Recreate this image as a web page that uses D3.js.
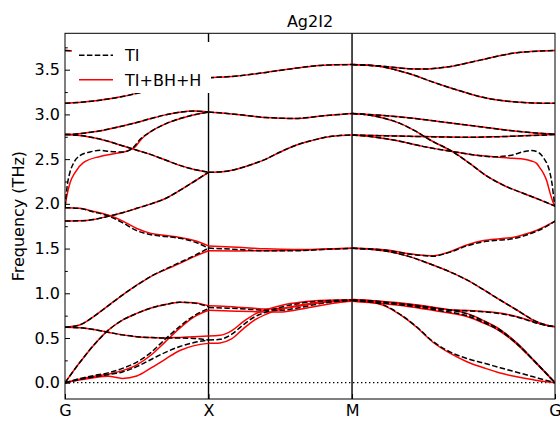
<!DOCTYPE html>
<html>
<head>
<meta charset="utf-8">
<script src="https://cdn.jsdelivr.net/npm/d3@7"></script>
<style>
  body { margin: 0; background: #fff; }
  svg { display: block; }
  text { font-family: "DejaVu Sans", sans-serif; }
</style>
</head>
<body>
<svg id="chart" width="560" height="421"></svg>
<script>
// ---- data -----------------------------------------------------------
const titleText = "Ag2I2";
const seriesNames = ["TI", "TI+BH+H"];
const pathLabels = ["G", "X", "M", "G"];
const pathPositions = [0, 0.5, 1.0, 1.7071];
const freqTicks = [0.0, 0.5, 1.0, 1.5, 2.0, 2.5, 3.0, 3.5];
const freqMinorTicks = [0.25, 0.75, 1.25, 1.75, 2.25, 2.75, 3.25, 3.75];

// Each band: list of [path coordinate, frequency in THz]
// TI, G -> X
const tiGX = [
  [[0,0],[0.05,0.035],[0.1,0.065],[0.15,0.09],[0.2,0.12],[0.25,0.18],[0.3,0.26],[0.35,0.34],[0.4,0.405],[0.45,0.45],[0.5,0.477]],
  [[0,0],[0.05,0.045],[0.1,0.08],[0.15,0.11],[0.2,0.16],[0.25,0.23],[0.3,0.34],[0.35,0.49],[0.4,0.63],[0.45,0.75],[0.5,0.83]],
  [[0,0],[0.05,0.22],[0.1,0.42],[0.15,0.585],[0.2,0.7],[0.25,0.775],[0.3,0.835],[0.35,0.875],[0.4,0.9],[0.45,0.89],[0.5,0.85]],
  [[0,0.62],[0.05,0.615],[0.1,0.595],[0.15,0.565],[0.2,0.535],[0.25,0.515],[0.3,0.505],[0.35,0.5],[0.4,0.5],[0.45,0.495],[0.5,0.477]],
  [[0,0.62],[0.05,0.645],[0.1,0.74],[0.15,0.86],[0.2,0.98],[0.25,1.09],[0.3,1.19],[0.35,1.27],[0.4,1.345],[0.45,1.42],[0.5,1.505]],
  [[0,1.957],[0.05,1.95],[0.1,1.91],[0.15,1.865],[0.2,1.79],[0.25,1.7],[0.3,1.655],[0.35,1.635],[0.4,1.615],[0.45,1.575],[0.5,1.505]],
  [[0,1.808],[0.05,1.81],[0.1,1.825],[0.15,1.86],[0.2,1.9],[0.25,1.95],[0.3,2.0],[0.35,2.06],[0.4,2.15],[0.45,2.25],[0.5,2.353]],
  [[0,1.96],[0.004,2.1],[0.009,2.23],[0.017,2.35],[0.029,2.45],[0.052,2.54],[0.087,2.58],[0.122,2.598],[0.157,2.585],[0.203,2.58],[0.238,2.63],[0.261,2.72],[0.3,2.81],[0.354,2.9],[0.424,2.975],[0.5,3.027]],
  [[0,2.775],[0.05,2.765],[0.1,2.74],[0.15,2.7],[0.2,2.65],[0.25,2.6],[0.3,2.55],[0.35,2.49],[0.4,2.43],[0.45,2.385],[0.5,2.353]],
  [[0,2.775],[0.05,2.785],[0.1,2.805],[0.15,2.835],[0.2,2.87],[0.25,2.91],[0.3,2.955],[0.35,2.995],[0.4,3.025],[0.45,3.037],[0.5,3.027]],
  [[0,3.124],[0.1,3.15],[0.2,3.2],[0.3,3.275],[0.4,3.36],[0.5,3.41]],
  [[0,3.715],[0.1,3.69],[0.2,3.62],[0.3,3.53],[0.4,3.45],[0.5,3.41]]
];
// TI, X -> M
const tiXM = [
  [[0.5,3.41],[0.6,3.43],[0.7,3.47],[0.8,3.515],[0.9,3.55],[1.0,3.557]],
  [[0.5,3.027],[0.6,3.0],[0.7,2.965],[0.8,2.955],[0.9,2.985],[1.0,3.01]],
  [[0.5,2.353],[0.55,2.36],[0.6,2.39],[0.65,2.44],[0.7,2.5],[0.75,2.58],[0.8,2.65],[0.85,2.7],[0.9,2.74],[0.95,2.762],[1.0,2.77]],
  [[0.5,1.505],[0.6,1.49],[0.7,1.475],[0.8,1.475],[0.9,1.49],[1.0,1.503]],
  [[0.5,0.477],[0.54,0.485],[0.58,0.54],[0.62,0.645],[0.66,0.735],[0.7,0.79],[0.76,0.85],[0.82,0.888],[0.91,0.917],[1.0,0.925]],
  [[0.5,0.84],[0.55,0.835],[0.6,0.83],[0.65,0.82],[0.7,0.81],[0.75,0.81],[0.8,0.83],[0.85,0.86],[0.9,0.89],[0.95,0.91],[1.0,0.92]]
];
// TI, M -> G
const tiMG = [
  [[1.0,3.557],[1.1,3.54],[1.2,3.51],[1.25,3.507],[1.33,3.53],[1.45,3.61],[1.56,3.683],[1.65,3.708],[1.7071,3.715]],
  [[1.0,3.557],[1.08,3.545],[1.15,3.5],[1.214,3.44],[1.27,3.375],[1.33,3.31],[1.39,3.25],[1.446,3.198],[1.5,3.165],[1.562,3.142],[1.63,3.128],[1.7071,3.124]],
  [[1.0,3.01],[1.1,2.99],[1.214,2.956],[1.33,2.91],[1.446,2.863],[1.55,2.82],[1.63,2.795],[1.7071,2.778]],
  [[1.0,3.01],[1.063,2.99],[1.115,2.955],[1.167,2.9],[1.22,2.815],[1.272,2.714],[1.352,2.58],[1.411,2.45],[1.47,2.31],[1.533,2.2],[1.596,2.118],[1.655,2.045],[1.7071,1.975]],
  [[1.0,2.77],[1.2,2.755],[1.4,2.745],[1.55,2.755],[1.7071,2.775]],
  [[1.0,2.77],[1.07,2.75],[1.144,2.714],[1.25,2.64],[1.353,2.583],[1.42,2.55],[1.492,2.527],[1.55,2.54],[1.6,2.585],[1.625,2.597],[1.65,2.575],[1.67,2.5],[1.683,2.42],[1.69,2.34],[1.697,2.22],[1.7035,2.05],[1.7071,1.97]],
  [[1.0,1.503],[1.111,1.484],[1.225,1.428],[1.283,1.415],[1.341,1.46],[1.4,1.53],[1.458,1.575],[1.516,1.595],[1.56,1.61],[1.597,1.64],[1.64,1.69],[1.667,1.73],[1.7071,1.808]],
  [[1.0,1.503],[1.07,1.49],[1.14,1.46],[1.2,1.41],[1.27,1.33],[1.341,1.24],[1.4,1.15],[1.458,1.04],[1.516,0.925],[1.574,0.813],[1.632,0.7],[1.667,0.653],[1.7071,0.626]],
  [[1.0,0.925],[1.066,0.915],[1.132,0.89],[1.23,0.85],[1.33,0.815],[1.446,0.795],[1.5,0.78],[1.562,0.745],[1.62,0.69],[1.655,0.655],[1.7071,0.626]],
  [[1.0,0.925],[1.1,0.905],[1.2,0.875],[1.3,0.83],[1.4,0.77],[1.458,0.69],[1.516,0.59],[1.574,0.44],[1.632,0.254],[1.7071,0]],
  [[1.0,0.92],[1.1,0.895],[1.2,0.86],[1.3,0.81],[1.4,0.75],[1.458,0.675],[1.516,0.58],[1.574,0.435],[1.632,0.252],[1.7071,0]],
  [[1.0,0.92],[1.05,0.91],[1.109,0.87],[1.17,0.76],[1.225,0.626],[1.283,0.458],[1.341,0.345],[1.4,0.27],[1.458,0.22],[1.516,0.168],[1.574,0.117],[1.632,0.066],[1.667,0.035],[1.7071,0]]
];

// TI+BH+H, G -> X
const corrGX = [
  [[0,0],[0.05,0.03],[0.1,0.055],[0.15,0.072],[0.2,0.048],[0.25,0.075],[0.3,0.165],[0.35,0.265],[0.4,0.36],[0.45,0.415],[0.5,0.44]],
  [[0,0],[0.05,0.04],[0.1,0.07],[0.15,0.095],[0.2,0.135],[0.25,0.2],[0.3,0.31],[0.35,0.46],[0.4,0.61],[0.45,0.735],[0.5,0.81]],
  [[0,0],[0.05,0.22],[0.1,0.42],[0.15,0.585],[0.2,0.7],[0.25,0.775],[0.3,0.835],[0.35,0.875],[0.4,0.9],[0.45,0.895],[0.5,0.86]],
  [[0,0.62],[0.05,0.615],[0.1,0.595],[0.15,0.565],[0.2,0.535],[0.25,0.515],[0.3,0.505],[0.35,0.5],[0.4,0.507],[0.45,0.515],[0.5,0.522]],
  [[0,0.62],[0.05,0.645],[0.1,0.74],[0.15,0.86],[0.2,0.98],[0.25,1.09],[0.3,1.19],[0.35,1.265],[0.4,1.335],[0.45,1.41],[0.5,1.475]],
  [[0,1.957],[0.05,1.95],[0.1,1.915],[0.15,1.875],[0.2,1.81],[0.25,1.725],[0.3,1.67],[0.35,1.645],[0.4,1.625],[0.45,1.59],[0.5,1.53]],
  [[0,1.808],[0.05,1.81],[0.1,1.825],[0.15,1.86],[0.2,1.9],[0.25,1.95],[0.3,2.0],[0.35,2.06],[0.4,2.15],[0.45,2.25],[0.5,2.353]],
  [[0,1.96],[0.006,2.08],[0.017,2.23],[0.035,2.35],[0.064,2.46],[0.122,2.53],[0.18,2.565],[0.22,2.595],[0.245,2.64],[0.265,2.72],[0.3,2.81],[0.354,2.9],[0.424,2.975],[0.5,3.027]],
  [[0,2.775],[0.05,2.765],[0.1,2.74],[0.15,2.7],[0.2,2.65],[0.25,2.6],[0.3,2.55],[0.35,2.49],[0.4,2.43],[0.45,2.385],[0.5,2.353]],
  [[0,2.775],[0.05,2.785],[0.1,2.805],[0.15,2.835],[0.2,2.87],[0.25,2.91],[0.3,2.955],[0.35,2.995],[0.4,3.025],[0.45,3.037],[0.5,3.027]],
  [[0,3.124],[0.1,3.15],[0.2,3.2],[0.3,3.275],[0.4,3.36],[0.5,3.41]],
  [[0,3.715],[0.1,3.69],[0.2,3.62],[0.3,3.53],[0.4,3.45],[0.5,3.41]]
];
// TI+BH+H, X -> M
const corrXM = [
  [[0.5,3.41],[0.6,3.43],[0.7,3.47],[0.8,3.515],[0.9,3.55],[1.0,3.557]],
  [[0.5,3.027],[0.6,3.0],[0.7,2.965],[0.8,2.955],[0.9,2.985],[1.0,3.01]],
  [[0.5,2.353],[0.55,2.36],[0.6,2.39],[0.65,2.44],[0.7,2.5],[0.75,2.58],[0.8,2.65],[0.85,2.7],[0.9,2.74],[0.95,2.762],[1.0,2.77]],
  [[0.5,1.53],[0.6,1.515],[0.7,1.497],[0.8,1.49],[0.9,1.495],[1.0,1.503]],
  [[0.5,1.475],[0.6,1.473],[0.7,1.476],[0.8,1.48],[0.9,1.492],[1.0,1.503]],
  [[0.5,0.522],[0.54,0.53],[0.58,0.58],[0.62,0.68],[0.66,0.765],[0.7,0.815],[0.76,0.87],[0.82,0.9],[0.91,0.922],[1.0,0.928]],
  [[0.5,0.44],[0.54,0.445],[0.58,0.49],[0.62,0.6],[0.66,0.7],[0.7,0.765],[0.76,0.83],[0.82,0.87],[0.91,0.905],[1.0,0.915]],
  [[0.5,0.86],[0.55,0.855],[0.6,0.845],[0.65,0.835],[0.7,0.825],[0.75,0.83],[0.8,0.85],[0.85,0.875],[0.9,0.9],[0.95,0.915],[1.0,0.925]],
  [[0.5,0.81],[0.55,0.805],[0.6,0.8],[0.65,0.795],[0.7,0.79],[0.75,0.79],[0.8,0.81],[0.85,0.84],[0.9,0.87],[0.95,0.895],[1.0,0.91]]
];
// TI+BH+H, M -> G
const corrMG = [
  [[1.0,3.557],[1.1,3.54],[1.2,3.51],[1.25,3.507],[1.33,3.53],[1.45,3.61],[1.56,3.683],[1.65,3.708],[1.7071,3.715]],
  [[1.0,3.557],[1.08,3.545],[1.15,3.5],[1.214,3.44],[1.27,3.375],[1.33,3.31],[1.39,3.25],[1.446,3.198],[1.5,3.165],[1.562,3.142],[1.63,3.128],[1.7071,3.124]],
  [[1.0,3.01],[1.1,2.99],[1.214,2.956],[1.33,2.91],[1.446,2.863],[1.55,2.82],[1.63,2.795],[1.7071,2.778]],
  [[1.0,3.01],[1.063,2.99],[1.115,2.955],[1.167,2.9],[1.22,2.815],[1.272,2.714],[1.352,2.58],[1.411,2.45],[1.47,2.31],[1.533,2.2],[1.596,2.118],[1.655,2.045],[1.7071,1.975]],
  [[1.0,2.77],[1.2,2.755],[1.4,2.745],[1.55,2.755],[1.7071,2.775]],
  [[1.0,2.77],[1.07,2.75],[1.144,2.714],[1.25,2.64],[1.353,2.583],[1.42,2.55],[1.492,2.527],[1.56,2.51],[1.6,2.5],[1.625,2.48],[1.643,2.453],[1.655,2.4],[1.667,2.34],[1.678,2.26],[1.69,2.12],[1.699,2.03],[1.7071,1.97]],
  [[1.0,1.503],[1.111,1.487],[1.225,1.432],[1.283,1.42],[1.341,1.465],[1.4,1.54],[1.458,1.59],[1.516,1.61],[1.56,1.625],[1.597,1.655],[1.64,1.7],[1.667,1.74],[1.7071,1.808]],
  [[1.0,1.503],[1.07,1.49],[1.14,1.46],[1.2,1.41],[1.27,1.33],[1.341,1.24],[1.4,1.15],[1.458,1.04],[1.516,0.925],[1.574,0.813],[1.632,0.7],[1.667,0.653],[1.7071,0.626]],
  [[1.0,0.93],[1.066,0.92],[1.132,0.895],[1.23,0.855],[1.33,0.82],[1.446,0.8],[1.5,0.785],[1.562,0.75],[1.62,0.695],[1.655,0.658],[1.7071,0.626]],
  [[1.0,0.93],[1.1,0.91],[1.2,0.88],[1.3,0.835],[1.4,0.775],[1.458,0.695],[1.516,0.595],[1.574,0.445],[1.632,0.256],[1.7071,0]],
  [[1.0,0.91],[1.1,0.885],[1.2,0.85],[1.3,0.8],[1.4,0.74],[1.458,0.668],[1.516,0.575],[1.574,0.432],[1.632,0.25],[1.7071,0]],
  [[1.0,0.915],[1.05,0.905],[1.109,0.865],[1.17,0.755],[1.225,0.62],[1.283,0.45],[1.341,0.33],[1.4,0.235],[1.458,0.168],[1.516,0.108],[1.574,0.066],[1.632,0.032],[1.67,0.013],[1.7071,0]]
];

// ---- layout ---------------------------------------------------------
const W = 560, H = 421;
const plot = { left: 65, right: 555, top: 33.3, bottom: 399 };
const fontSize = 16;

const svg = d3.select("#chart");

const x = d3.scaleLinear().domain([0, 1.7071]).range([plot.left, plot.right]);
const y = d3.scaleLinear().domain([-0.182, 3.907]).range([plot.bottom, plot.top]);

svg.append("defs").append("clipPath").attr("id", "plotClip")
  .append("rect")
  .attr("x", plot.left).attr("y", plot.top)
  .attr("width", plot.right - plot.left).attr("height", plot.bottom - plot.top);

const line = d3.line()
  .x(d => x(d[0]))
  .y(d => y(d[1]))
  .curve(d3.curveMonotoneX);

const bands = svg.append("g").attr("clip-path", "url(#plotClip)");

// zero-frequency guide
bands.append("line")
  .attr("x1", x(0)).attr("x2", x(1.7071))
  .attr("y1", y(0)).attr("y2", y(0))
  .attr("stroke", "#000").attr("stroke-width", 1.3)
  .attr("stroke-dasharray", "1.4,2.6");

// high-symmetry verticals (X and M)
bands.selectAll("line.sym")
  .data(pathPositions.slice(1, -1))
  .join("line")
  .attr("class", "sym")
  .attr("x1", d => x(d)).attr("x2", d => x(d))
  .attr("y1", plot.top).attr("y2", plot.bottom)
  .attr("stroke", "#000").attr("stroke-width", 1.4);

// corrected bands (solid red) underneath
bands.append("g").selectAll("path")
  .data([...corrGX, ...corrXM, ...corrMG])
  .join("path")
  .attr("d", line)
  .attr("fill", "none")
  .attr("stroke", "#ff0000")
  .attr("stroke-width", 1.5);

// TI bands (dashed black) on top
bands.append("g").selectAll("path")
  .data([...tiGX, ...tiXM, ...tiMG])
  .join("path")
  .attr("d", line)
  .attr("fill", "none")
  .attr("stroke", "#000")
  .attr("stroke-width", 1.5)
  .attr("stroke-dasharray", "5.5,2.4");

// ---- axes -----------------------------------------------------------
const yAxis = d3.axisLeft(y)
  .tickValues(freqTicks)
  .tickFormat(d3.format(".1f"))
  .tickSize(-5)
  .tickPadding(5);
const gy = svg.append("g").attr("transform", `translate(${plot.left},0)`).call(yAxis);
gy.select(".domain").remove();
gy.selectAll("text").attr("font-size", fontSize).attr("font-family", "DejaVu Sans").attr("fill", "#000");
gy.selectAll("line").attr("stroke", "#000");

const yMinor = d3.axisLeft(y)
  .tickValues(freqMinorTicks.filter(v => v < 3.907))
  .tickFormat("")
  .tickSize(-2.8);
const gym = svg.append("g").attr("transform", `translate(${plot.left},0)`).call(yMinor);
gym.select(".domain").remove();
gym.selectAll("line").attr("stroke", "#000");

const xAxis = d3.axisBottom(x)
  .tickValues(pathPositions)
  .tickFormat((d, i) => pathLabels[i])
  .tickSize(-5)
  .tickPadding(6);
const gx = svg.append("g").attr("transform", `translate(0,${plot.bottom})`).call(xAxis);
gx.select(".domain").remove();
gx.selectAll("text").attr("font-size", fontSize).attr("font-family", "DejaVu Sans").attr("fill", "#000");
gx.selectAll("line").attr("stroke", "#000");

// frame
svg.append("rect")
  .attr("x", plot.left).attr("y", plot.top)
  .attr("width", plot.right - plot.left).attr("height", plot.bottom - plot.top)
  .attr("fill", "none").attr("stroke", "#000").attr("stroke-width", 1);

// title and axis label
svg.append("text")
  .attr("x", (plot.left + plot.right) / 2).attr("y", 27)
  .attr("text-anchor", "middle")
  .attr("font-size", fontSize)
  .text(titleText);

svg.append("text")
  .attr("transform", `translate(24,${(plot.top + plot.bottom) / 2}) rotate(-90)`)
  .attr("text-anchor", "middle")
  .attr("font-size", fontSize)
  .text("Frequency (THz)");

// ---- legend ---------------------------------------------------------
const legend = svg.append("g");
legend.append("rect")
  .attr("x", 72).attr("y", 42).attr("width", 139).attr("height", 51)
  .attr("fill", "#fff");
const legendItems = [
  { name: seriesNames[0], color: "#000", dash: "5.5,2.4" },
  { name: seriesNames[1], color: "#ff0000", dash: null }
];
legendItems.forEach((item, i) => {
  const cy = 55.3 + i * 24.5;
  legend.append("line")
    .attr("x1", 79).attr("x2", 113)
    .attr("y1", cy).attr("y2", cy)
    .attr("stroke", item.color).attr("stroke-width", 1.5)
    .attr("stroke-dasharray", item.dash);
  legend.append("text")
    .attr("x", 125).attr("y", cy + 6)
    .attr("font-size", fontSize)
    .text(item.name);
});
</script>
</body>
</html>
